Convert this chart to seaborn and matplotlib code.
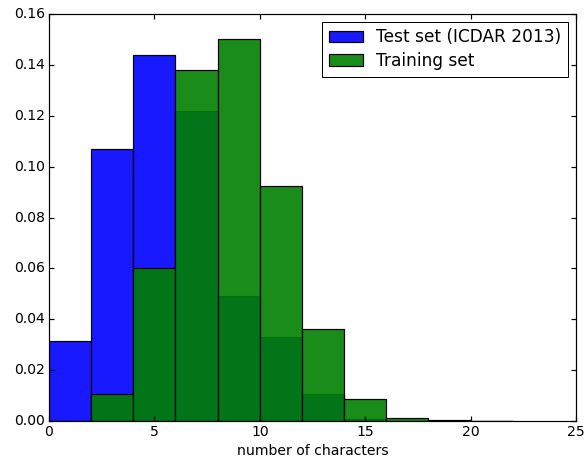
import numpy as np
import pandas as pd
import matplotlib
matplotlib.use("Agg")
import matplotlib.pyplot as plt
import seaborn as sns

# bin centres (bins of width 2) and normalised frequencies
bin_centers = [1, 3, 5, 7, 9, 11, 13, 15, 17, 19, 21]
test_freq = [0.0315, 0.107, 0.144, 0.122, 0.049, 0.033, 0.0105, 0.0008, 0.0, 0.0, 0.0]
train_freq = [0.0, 0.0105, 0.060, 0.138, 0.150, 0.0925, 0.036, 0.0086, 0.0013, 0.0002, 0.0001]

test_df = pd.DataFrame({"n": bin_centers, "w": test_freq})
train_df = pd.DataFrame({"n": bin_centers, "w": train_freq})

plt.style.use("classic")
plt.rcParams["font.family"] = ["DejaVu Sans"]
plt.rcParams["axes.linewidth"] = 1.2

fig = plt.figure(figsize=(585 / 72, 467 / 72), dpi=72, facecolor="white")
ax = fig.add_axes([49 / 585, 1 - 421 / 467, (576 - 49) / 585, (421 - 14) / 467])

sns.histplot(data=test_df, x="n", weights="w", binwidth=2, binrange=(0, 22),
             color="blue", alpha=0.9, edgecolor="black", linewidth=1.2, ax=ax,
             label="Test set (ICDAR 2013)")
sns.histplot(data=train_df, x="n", weights="w", binwidth=2, binrange=(0, 22),
             color="green", alpha=0.9, edgecolor="black", linewidth=1.2, ax=ax,
             label="Training set")

ax.set_xlim(0, 25)
ax.set_ylim(0, 0.16)
yt = np.arange(0, 0.161, 0.02)
ax.set_yticks(yt)
ax.set_yticklabels(["%.2f" % v for v in yt])
ax.set_xticks([0, 5, 10, 15, 20, 25])
ax.set_xlabel("number of characters", fontsize=14)
ax.set_ylabel("")
ax.tick_params(labelsize=14, width=1.2, length=5)
ax.legend(loc="upper right", fontsize=17, borderaxespad=0.45, labelspacing=0.35)

fig.savefig("out.png", dpi=72, facecolor="white")
